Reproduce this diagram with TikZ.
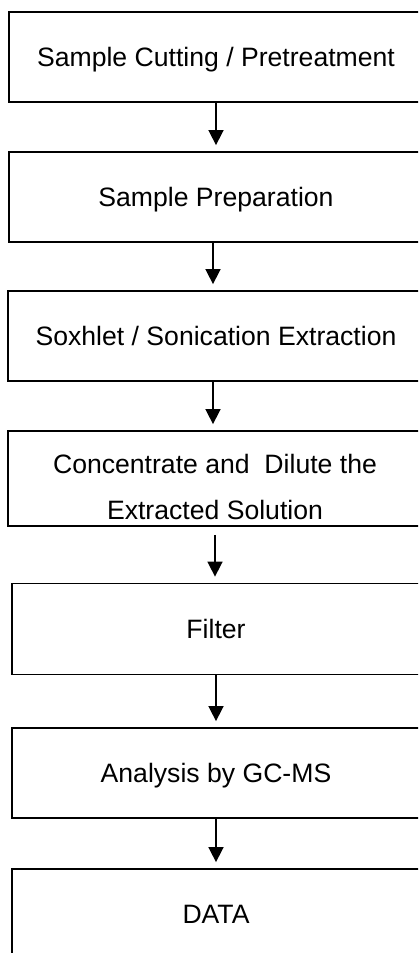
\documentclass[tikz,border=0pt]{standalone}
\usepackage{fontspec}
\setmainfont{Liberation Sans}
\usetikzlibrary{arrows.meta}
\tikzset{stepbox/.style={draw, line width=0.9pt, inner sep=0pt, minimum
    width=207pt, minimum height=45pt, text height=9.5pt, text depth=0pt},
  flow/.style={-{Triangle[length=7.5pt,width=7.5pt]}, line width=0.8pt,
    shorten >=3pt}}

\begin{document}
\begin{tikzpicture}[x=0.5pt, y=-0.5pt, font=\fontsize{13.3}{23}\selectfont]
    \useasboundingbox (0,0) rectangle (418,953); \clip (0,0) rectangle
    (418,953);
    \node[stepbox] (cut) at (216,57) {Sample Cutting / Pretreatment};
    \node[stepbox] (prep) at (216,197) {Sample Preparation}; \node[stepbox,
    minimum width=208pt] (extr) at (216,336) {Soxhlet / Sonication
      Extraction}; \node[stepbox, minimum width=208pt, minimum
    height=47.5pt] (conc) at (216,478.5) {}; \node[inner sep=0pt,
    align=center] (conctext) at (215,487) {Concentrate and\ \ Dilute
      the\\Extracted Solution}; \node[stepbox, minimum width=204pt, minimum
    height=45.5pt] (filt) at (216,629) {Filter}; \node[stepbox, minimum
    width=204pt] (gcms) at (216,773) {Analysis by GC-MS}; \node[stepbox,
    minimum width=204pt] (data) at (216,914) {DATA};
    \draw[flow] (cut) -- (prep); \draw[flow] ([xshift=-1.5pt]prep.south)
    -- ([xshift=-1.5pt]extr.north); \draw[flow] ([xshift=-1.5pt]extr.south)
    -- ([xshift=-1.5pt]conc.north); \draw[flow, shorten <=4pt]
    ([xshift=-0.5pt]conc.south) -- ([xshift=-0.5pt]filt.north); \draw[flow]
    (filt) -- (gcms); \draw[flow] (gcms) -- (data);
  \end{tikzpicture}
\end{document}
